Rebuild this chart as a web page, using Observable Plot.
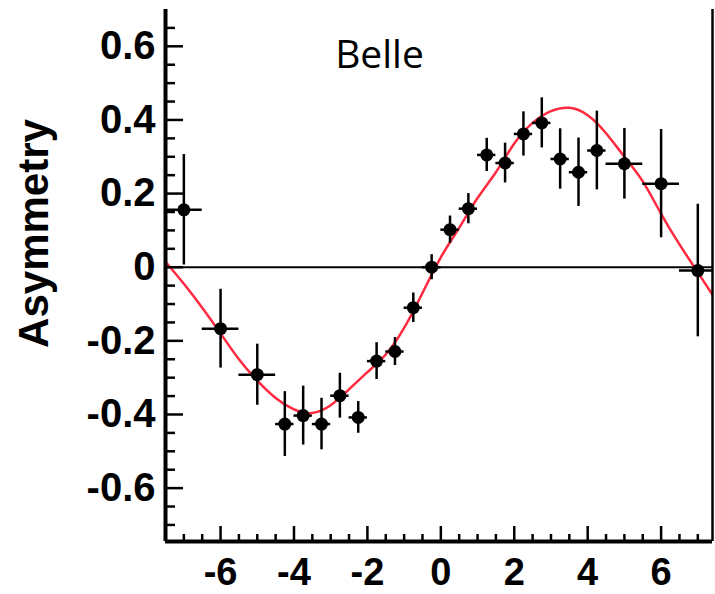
<!DOCTYPE html>
<html>
<head>
<meta charset="utf-8">
<script src="https://cdn.jsdelivr.net/npm/d3@7"></script>
<script src="https://cdn.jsdelivr.net/npm/@observablehq/plot@0.6"></script>
<style>
  html, body { margin: 0; padding: 0; background: #fff; }
  #chart svg { display: block; }
</style>
</head>
<body>
<div id="chart"></div>
<script>
// ---- Data ----
const titleText = "Belle";
const yTitle = "Asymmetry";

// Δt bin centres, half-widths, asymmetry values and errors
const dt = [-7, -6, -5, -4.25, -3.75, -3.25, -2.75, -2.25, -1.75, -1.25, -0.75, -0.25,
            0.25, 0.75, 1.25, 1.75, 2.25, 2.75, 3.25, 3.75, 4.25, 5, 6, 7];
const binHalf = [0.5, 0.5, 0.5, 0.25, 0.25, 0.25, 0.25, 0.25, 0.25, 0.25, 0.25, 0.25,
                 0.25, 0.25, 0.25, 0.25, 0.25, 0.25, 0.25, 0.25, 0.25, 0.5, 0.5, 0.5];
const asym = [0.156, -0.167, -0.292, -0.426, -0.403, -0.426, -0.349, -0.408, -0.255, -0.229, -0.110, 0.0,
              0.102, 0.159, 0.305, 0.283, 0.362, 0.392, 0.294, 0.258, 0.317, 0.281, 0.227, -0.009];
const asymErr = [0.15, 0.107, 0.083, 0.088, 0.08, 0.07, 0.061, 0.043, 0.05, 0.038, 0.04, 0.034,
                 0.037, 0.041, 0.045, 0.054, 0.06, 0.068, 0.082, 0.093, 0.107, 0.096, 0.147, 0.18];

// Fit curve (red)
const fitX = [-7.5, -7, -6.5, -6, -5.5, -5, -4.5, -4, -3.5, -3, -2.5, -2, -1.5, -1, -0.5, 0,
              0.5, 1, 1.5, 2, 2.5, 3, 3.5, 4, 4.5, 5, 5.5, 6, 6.5, 7, 7.5];
const fitY = [0.015, -0.045, -0.11, -0.18, -0.25, -0.308, -0.355, -0.386, -0.396, -0.375, -0.332, -0.285,
              -0.237, -0.165, -0.07, 0.027, 0.107, 0.188, 0.258, 0.336, 0.392, 0.424, 0.433, 0.413,
              0.364, 0.3, 0.233, 0.145, 0.062, -0.014, -0.09];

// Axis ticks
const xMajorTicks = [-6, -4, -2, 0, 2, 4, 6];
const xMinorTicks = [-7, -6.5, -5.5, -5, -4.5, -3.5, -3, -2.5, -1.5, -1, -0.5, 0.5, 1, 1.5, 2.5, 3, 3.5, 4.5, 5, 5.5, 6.5, 7];
const yMajorTicks = [-0.6, -0.4, -0.2, 0, 0.2, 0.4, 0.6];
const yMinorTicks = [-0.7, -0.65, -0.55, -0.5, -0.45, -0.35, -0.3, -0.25, -0.15, -0.1, -0.05,
                     0.05, 0.1, 0.15, 0.25, 0.3, 0.35, 0.45, 0.5, 0.55, 0.65];
const xDomain = [-7.5, 7.4];
const yDomain = [-0.745, 0.70];

// ---- Build tables ----
const points = dt.map((x, i) => ({x, y: asym[i], e: asymErr[i], h: binHalf[i]}));
const fit = fitX.map((x, i) => ({x, y: fitY[i]}));

const labelFont = "'Liberation Sans', Arial, Helvetica, sans-serif";

const chart = Plot.plot({
  width: 715,
  height: 594,
  marginLeft: 165,
  marginRight: 3,
  marginTop: 9,
  marginBottom: 53,
  style: {background: "#fff", fontFamily: labelFont, overflow: "visible"},
  x: {domain: xDomain, axis: null},
  y: {domain: yDomain, axis: null},
  marks: [
    // zero line
    Plot.ruleY([0], {stroke: "#000", strokeWidth: 2}),
    // fit curve
    Plot.line(fit, {x: "x", y: "y", stroke: "#ff2a40", strokeWidth: 2.5, curve: "natural", clip: true}),
    // error bars
    Plot.ruleX(points, {x: "x", y1: d => d.y - d.e, y2: d => d.y + d.e, stroke: "#000", strokeWidth: 2.5, clip: true}),
    Plot.ruleY(points, {y: "y", x1: d => d.x - d.h, x2: d => d.x + d.h, stroke: "#000", strokeWidth: 2.5, clip: true}),
    Plot.dot(points, {x: "x", y: "y", r: 6.5, fill: "#000", stroke: "none"}),
    // inward ticks
    Plot.axisX(xMajorTicks, {anchor: "bottom", tickSize: -15, fill: "none", strokeWidth: 2.5, label: null}),
    Plot.axisX(xMinorTicks, {anchor: "bottom", tickSize: -7, fill: "none", strokeWidth: 2.5, label: null}),
    Plot.axisY(yMajorTicks, {anchor: "left", tickSize: -18, fill: "none", strokeWidth: 2.5, label: null}),
    Plot.axisY(yMinorTicks, {anchor: "left", tickSize: -10, fill: "none", strokeWidth: 2.5, label: null}),
    // tick labels
    Plot.axisX(xMajorTicks, {anchor: "bottom", tickSize: 0, tickPadding: 17, tickFormat: d => String(d),
      fontSize: 38, fontWeight: "bold", fontFamily: labelFont, fill: "#000", label: null}),
    Plot.axisY(yMajorTicks, {anchor: "left", tickSize: 0, tickPadding: 10, tickFormat: d => String(d),
      fontSize: 40, fontWeight: "bold", fontFamily: labelFont, fill: "#000", label: null}),
    // frame lines
    Plot.ruleX([xDomain[0]], {stroke: "#000", strokeWidth: 4}),
    Plot.ruleY([yDomain[0]], {stroke: "#000", strokeWidth: 4}),
    Plot.ruleX([xDomain[1]], {stroke: "#000", strokeWidth: 2.5}),
    // y-axis title
    Plot.text([yTitle], {frameAnchor: "left", rotate: -90, dx: -131, dy: -42, fontSize: 42,
      fontWeight: "bold", fontFamily: labelFont, textAnchor: "middle", lineAnchor: "middle", fill: "#000"}),
    // in-plot label
    Plot.text([titleText], {frameAnchor: "top-left", dx: 214, dy: 58, fontSize: 39,
      fontFamily: "'Open Sans', sans-serif", textAnchor: "middle", lineAnchor: "bottom", fill: "#000"})
  ]
});
document.getElementById("chart").appendChild(chart);
</script>
</body>
</html>
